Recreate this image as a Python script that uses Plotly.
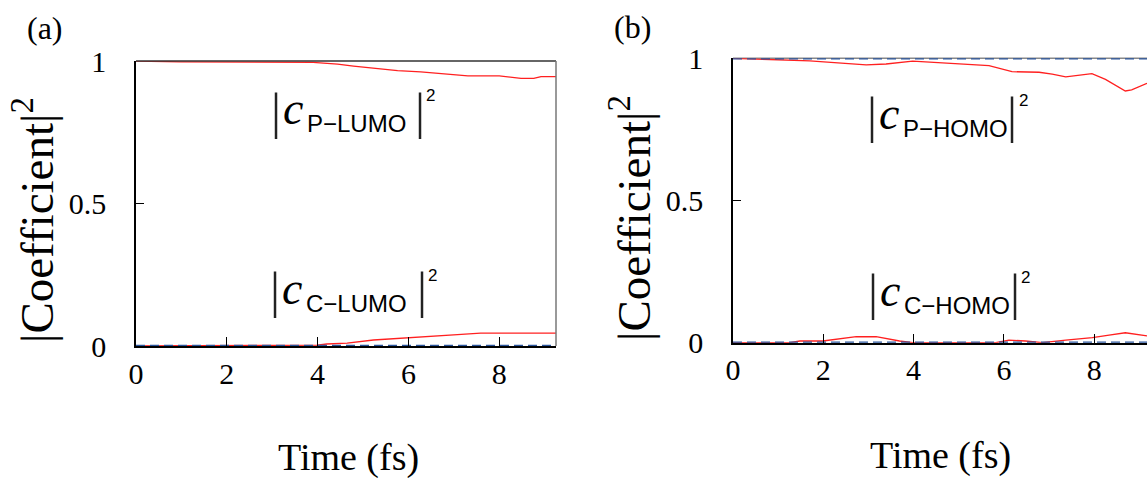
import plotly.graph_objects as go

# ---------------- data ----------------
TIME_TICKS = [0, 2, 4, 6, 8]
TIME_TICK_LABELS = ["0", "2", "4", "6", "8"]
COEF_TICKS = [0, 0.5, 1]
COEF_TICK_LABELS = ["0", "0.5", "1"]

# panel (a)
P_LUMO_T = [0, 0.97, 3.9, 4.44, 4.79, 5.76, 6.27, 7.31, 8.0, 8.48, 8.76, 8.92, 9.25]
P_LUMO_V = [1.0, 0.997, 0.995, 0.989, 0.982, 0.966, 0.962, 0.948, 0.948, 0.939, 0.939, 0.945, 0.945]
C_LUMO_T = [0, 3.99, 4.2, 4.65, 5.23, 5.75, 6.05, 6.71, 7.08, 7.59, 9.25]
C_LUMO_V = [0, 0.003, 0.007, 0.010, 0.021, 0.027, 0.029, 0.037, 0.040, 0.045, 0.045]
REF_A_T = [0, 9.25]
REF_A_ZERO = [0, 0]

# panel (b)
P_HOMO_T = [0, 0.74, 1.7, 2.95, 3.39, 3.98, 4.86, 5.67, 6.18, 6.78, 7.07, 7.37, 7.95, 8.25, 8.69, 8.83, 9.17]
P_HOMO_V = [1.0, 0.997, 0.991, 0.977, 0.980, 0.990, 0.982, 0.974, 0.953, 0.951, 0.944, 0.935, 0.946, 0.926, 0.885, 0.889, 0.912]
C_HOMO_T = [0, 1.26, 1.48, 1.99, 2.73, 3.17, 3.69, 3.98, 5.82, 6.11, 6.48, 6.85, 7.37, 7.96, 8.33, 8.69, 9.17]
C_HOMO_V = [0, 0.0, 0.006, 0.006, 0.021, 0.021, 0.006, 0.0, 0.0, 0.009, 0.006, 0.0, 0.009, 0.018, 0.027, 0.035, 0.024]
REF_B_T = [0, 9.17]
REF_B_ZERO = [0, 0]
REF_B_ONE = [1, 1]

PANEL_LABELS = ["(a)", "(b)"]
X_TITLE = "Time (fs)"
Y_TITLE = "|Coefficient|<sup>2</sup>"
# (axis suffix, anchor t, anchor v, subscript, right-bar offset px)
CURVE_LABELS = [
    ("", 3.08, 0.825, "P\u2212LUMO", 144),
    ("", 3.06, 0.196, "C\u2212LUMO", 147),
    ("2", 3.08, 0.800, "P\u2212HOMO", 140),
    ("2", 3.10, 0.177, "C\u2212HOMO", 142),
]

# ---------------- styles ----------------
W, H = 1147, 478
SERIF = "Liberation Serif"
SANS = "Liberation Sans"
RED = "#ff2020"
BLUE = "#2a559c"

fig = go.Figure()

def red(t, v, ax):
    fig.add_trace(go.Scatter(x=t, y=v, mode="lines", xaxis="x" + ax, yaxis="y" + ax,
                             line=dict(color=RED, width=1.3), showlegend=False, hoverinfo="skip"))

def ref(t, v, ax):
    fig.add_trace(go.Scatter(x=t, y=v, mode="lines", xaxis="x" + ax, yaxis="y" + ax,
                             line=dict(color=BLUE, width=2.5, dash="9px,5px"),
                             showlegend=False, hoverinfo="skip", cliponaxis=False))

red(P_LUMO_T, P_LUMO_V, "")
red(C_LUMO_T, C_LUMO_V, "")
ref(REF_A_T, REF_A_ZERO, "")
red(P_HOMO_T, P_HOMO_V, "2")
red(C_HOMO_T, C_HOMO_V, "2")
ref(REF_B_T, REF_B_ZERO, "2")
ref(REF_B_T, REF_B_ONE, "2")

def xax(domain, rng):
    return dict(domain=domain, range=rng, showline=True, linecolor="black", linewidth=1.5,
                ticks="inside", ticklen=9, tickwidth=1, tickcolor="black", automargin=False,
                tickvals=TIME_TICKS, ticktext=TIME_TICK_LABELS, showgrid=False, zeroline=False,
                tickfont=dict(family=SERIF, size=30, color="black"), ticklabelstandoff=0)

def yax(domain, anchor):
    return dict(domain=domain, range=[0, 1], showline=True, linecolor="black", linewidth=1.5,
                ticks="inside", ticklen=8, tickwidth=1, tickcolor="black", anchor=anchor,
                automargin=False,
                tickvals=COEF_TICKS, ticktext=COEF_TICK_LABELS, showgrid=False, zeroline=False,
                tickfont=dict(family=SERIF, size=30, color="black"), ticklabelstandoff=22)

A_X = [136 / W, 556 / W]
A_Y = [(H - 346) / H, (H - 61) / H]
B_X = [733 / W, 1.0]
B_Y = [(H - 342.7) / H, (H - 58.3) / H]

fig.update_layout(
    width=W, height=H, margin=dict(l=0, r=0, t=0, b=0, autoexpand=False),
    paper_bgcolor="white", plot_bgcolor="white",
    xaxis=dict(xax(A_X, [0, 9.25]), anchor="y"),
    yaxis=yax(A_Y, "x"),
    xaxis2=dict(xax(B_X, [0, 9.17]), anchor="y2"),
    yaxis2=yax(B_Y, "x2"),
)

# borders
fig.add_shape(type="line", xref="x domain", yref="y domain", x0=0, x1=1, y0=1, y1=1,
              line=dict(color="#333333", width=1.5))
fig.add_shape(type="line", xref="x domain", yref="y domain", x0=1, x1=1, y0=0, y1=1,
              line=dict(color="#777777", width=1.5))
fig.add_shape(type="line", xref="x2 domain", yref="y2 domain", x0=0, x1=1, y0=1, y1=1,
              line=dict(color="#888888", width=1.5), layer="below")

ann = []
def paper_text(text, px, py, size, angle=0):
    ann.append(dict(text=text, x=px / W, y=1 - py / H, xref="paper", yref="paper",
                    xanchor="center", yanchor="middle", textangle=angle,
                    showarrow=False, font=dict(family=SERIF, size=size, color="black")))

paper_text(PANEL_LABELS[0], 45, 28, 32)
paper_text(PANEL_LABELS[1], 632, 27, 32)
paper_text(X_TITLE, 348, 457, 38)
paper_text(X_TITLE, 940, 455, 38)
paper_text(Y_TITLE, 33, 220, 47, -90)
paper_text(Y_TITLE, 630, 218, 47, -90)

# curve labels |c_X|^2
for ax, t, v, sub, rb in CURVE_LABELS:
    base = dict(x=t, y=v, xref="x" + ax, yref="y" + ax, showarrow=False)
    ann.append(dict(base, text="|", xanchor="center", yanchor="middle",
                    font=dict(family=SERIF, size=50, color="#222222")))
    ann.append(dict(base, text="<i>c</i>", xanchor="center", yanchor="middle", xshift=17, yshift=2,
                    font=dict(family=SERIF, size=46, color="black")))
    ann.append(dict(base, text=sub, xanchor="left", yanchor="middle", xshift=29, yshift=-13,
                    font=dict(family=SANS, size=24, color="black")))
    ann.append(dict(base, text="|", xanchor="center", yanchor="middle", xshift=rb,
                    font=dict(family=SERIF, size=50, color="#222222")))
    ann.append(dict(base, text="2", xanchor="center", yanchor="middle", xshift=rb + 11, yshift=15,
                    font=dict(family=SANS, size=17, color="black")))

fig.update_layout(annotations=ann)
fig.write_html("out.html")
